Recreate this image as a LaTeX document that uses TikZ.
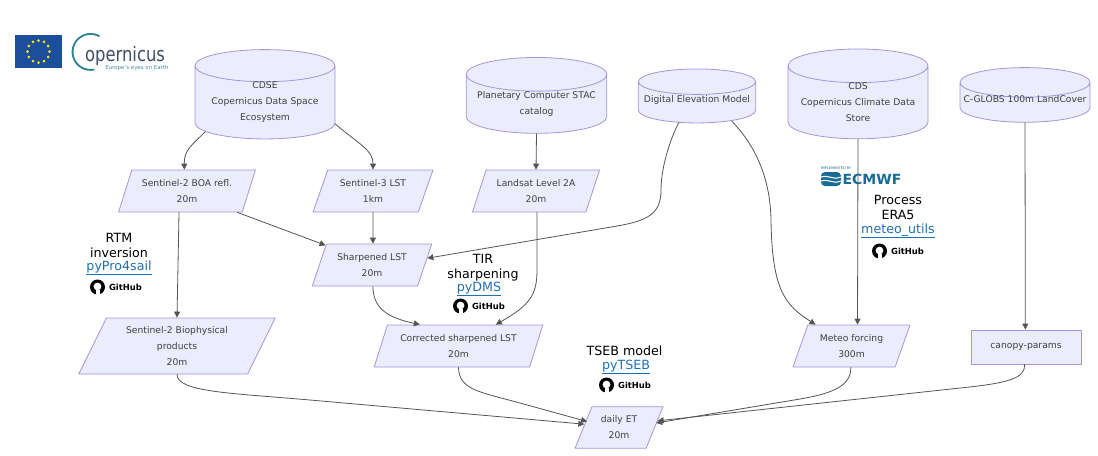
\documentclass[tikz,border=0pt]{standalone}
\usepackage{fontspec}
\setmainfont{DejaVu Sans}
\usetikzlibrary{shapes.geometric,arrows.meta}
\definecolor{nodefill}{HTML}{ECECFF}
\definecolor{nodeline}{HTML}{A594E0}
\definecolor{edgeline}{HTML}{555555}
\definecolor{linkblue}{HTML}{1F6FB8}
\definecolor{flagblue}{HTML}{1B4E9B}
\definecolor{ecmwfblue}{HTML}{1A6A96}
\definecolor{copgrey}{HTML}{3F4F66}
\newcommand{\linktext}[1]{\underline{\raisebox{0pt}[\height][1.8pt]{#1}}}

\tikzset{
    box/.style={draw=nodeline,line width=0.6pt,fill=nodefill,text=black!75,align=center,inner sep=0pt,
        font=\fontsize{6.9}{12}\selectfont},
    store/.style={box,cylinder,shape border rotate=90,shape aspect=#1},
    slant/.style={box,trapezium,trapezium stretches=true,trapezium left angle=#1,trapezium right angle=180-#1},
    flow/.style={->,line width=0.6pt,color=edgeline},
    note/.style={align=center,inner sep=0pt,font=\fontsize{9.5}{11.3}\selectfont},
    link/.style={inner sep=0pt,text=linkblue,font=\fontsize{9.5}{11}\selectfont},
    ghtext/.style={inner sep=0pt,font=\fontsize{6.3}{9}\bfseries\selectfont},
}

\begin{document}
\begin{tikzpicture}[line cap=round,line join=round,>={Triangle[length=4.5pt,width=4.5pt]},x=0.75pt,y=-0.75pt]
    \useasboundingbox (0,0) rectangle (1098,455);

    % logos
    \fill[flagblue] (15,35) rectangle (62,68);
    \foreach \a in {0,30,...,330} {
        \fill[yellow!90!orange] ({38.5+11*cos(\a)},{51.5+11*sin(\a)}) circle (1.5);
    }
    \draw[copgrey!70!cyan,line width=1.4pt] (99,36) arc (-62:-280:18);
    \node[inner sep=0pt,text=copgrey,font=\fontsize{15}{15}\selectfont] (coptext) at (125,56) {\scalebox{0.82}[1]{opernicus}};
    \node[inner sep=0pt,text=ecmwfblue!80,font=\fontsize{4.1}{5}\selectfont] (copline) at (137,68) {Europe's eyes on Earth};

    \node[inner sep=0pt,text=ecmwfblue,font=\fontsize{2.6}{3}\selectfont] (ecimpl) at (836,168) {IMPLEMENTED BY};
    \fill[ecmwfblue,rounded corners=3pt] (821,172) rectangle (841,186);
    \draw[white,line width=0.8pt] (821,177) .. controls (827,174) and (835,181) .. (841,177);
    \draw[white,line width=0.8pt] (821,181) .. controls (827,178) and (835,185) .. (841,181);
    \node[inner sep=0pt,text=ecmwfblue,font=\fontsize{10.5}{12}\bfseries\selectfont] (ectext) at (872,179) {ECMWF};

    % sources
    \node[store=0.3,minimum width=105pt,minimum height=65pt] (cdse) at (265,102.5) {CDSE\\Copernicus Data Space\\Ecosystem};
    \node[store=0.284,minimum width=105.5pt,minimum height=50.5pt] (stac) at (536.5,104) {Planetary Computer STAC\\catalog};
    \node[store=0.24,minimum width=88pt,minimum height=40.5pt] (dem) at (697,102.5) {\smash{Digital Elevation Model}};
    \node[store=0.294,minimum width=105pt,minimum height=65pt] (cds) at (858,102.5) {CDS\\Copernicus Climate Data\\Store};
    \node[store=0.24,minimum width=97.5pt,minimum height=41pt] (cglobs) at (1025,102.5) {\smash{C-GLOBS 100m LandCover}};

    % products
    \node[slant=65,minimum width=103pt,minimum height=31.5pt] (s2boa) at (187,191) {Sentinel-2 BOA refl.\\20m};
    \node[slant=65,minimum width=90pt,minimum height=31.5pt] (s3lst) at (373,191) {Sentinel-3 LST\\1km};
    \node[slant=65,minimum width=96pt,minimum height=31.5pt] (landsat) at (536,191) {Landsat Level 2A\\20m};
    \node[slant=65,minimum width=90pt,minimum height=31.5pt] (sharp) at (372,265) {Sharpened LST\\20m};
    \node[slant=63,minimum width=147.5pt,minimum height=42pt] (s2bio) at (177,346) {Sentinel-2 Biophysical\\products\\20m};
    \node[slant=65,minimum width=126.5pt,minimum height=31.5pt] (corr) at (458.5,346) {Corrected sharpened LST\\20m};
    \node[slant=65,minimum width=88pt,minimum height=31.5pt] (meteo) at (851.5,346) {Meteo forcing\\300m};
    \node[box,minimum width=82.5pt,minimum height=25.5pt] (canopy) at (1026,347) {canopy-params};
    \node[slant=64,minimum width=66pt,minimum height=31pt] (et) at (619,427.5) {daily ET\\20m};

    % links
    \draw[flow] (cdse.206) .. controls (192,145) and (184,150) .. ([xshift=-2pt]s2boa.north);
    \draw[flow] (cdse.-17) .. controls (360,145) and (373,150) .. (s3lst.north);
    \draw[flow] (stac.south) -- (landsat.north);
    \draw[flow] (dem.-132) .. controls (672,135) and (661,165) .. (661,190) .. controls (661,212) and (650,220) .. (620,225.5) -- (sharp.7);
    \draw[flow] (dem.-28) .. controls (745,135) and (770,165) .. (771,220) .. controls (772,290) and (785,305) .. ([xshift=-27pt]meteo.north);
    \draw[flow] (cds.south) -- ([xshift=4.5pt]meteo.north);
    \draw[flow] (cglobs.south) -- ([xshift=-0.5pt]canopy.north);
    \draw[flow] (s2boa.-23) -- (sharp.157);
    \draw[flow] (s3lst.south) -- ([xshift=0.7pt]sharp.north);
    \draw[flow] ([xshift=-6pt]s2boa.south) -- (s2bio.north);
    \draw[flow] ([xshift=0.7pt]landsat.south) -- (537,270) .. controls (537,295) and (530,305) .. ([xshift=28pt]corr.north);
    \draw[flow] ([xshift=0.7pt]sharp.south) .. controls (373,310) and (390,318) .. ([xshift=-29pt]corr.north);
    \draw[flow] (s2bio.south) .. controls (177,392) and (230,393) .. (310,400) -- ([yshift=2.5pt,xshift=1pt]et.west);
    \draw[flow] (corr.south) .. controls (459,390) and (480,392) .. (520,403) -- ([yshift=4.5pt,xshift=3pt]et.west);
    \draw[flow] ([xshift=-0.5pt]meteo.south) .. controls (851,385) and (835,393) .. (800,399) -- ([yshift=3.4pt,xshift=1pt]et.east);
    \draw[flow] ([xshift=-1pt]canopy.south) .. controls (1025,378) and (1010,383) .. (960,388) -- ([yshift=5pt,xshift=2pt]et.east);

    % tools
    \node[note] (rtm) at (119,245) {RTM\\inversion};
    \node[link] (pypro) at (119,268) {\linktext{pyPro4sail}};
    \node[note] (tir) at (483,268) {TIR\\sharpening};
    \node[link] (pydms) at (479,289) {\linktext{pyDMS}};
    \node[note] (tseb) at (624.5,351) {TSEB model};
    \node[link] (pytseb) at (626,367) {\linktext{pyTSEB}};
    \node[note] (era) at (898,207.5) {Process\\ERA5};
    \node[link] (utils) at (898,231) {\linktext{meteo\_utils}};

    \foreach \gx/\gy/\gname in {116/287/ghrtm,479/306/ghdms,625/385/ghtseb,898/251/ghutils} {
        \fill[black] ({\gx-18.5},\gy) circle (7.5);
        \fill[white] ({\gx-18.5},{\gy-0.5}) circle (3.9);
        \fill[white] ({\gx-20.5},{\gy+3}) rectangle ({\gx-16.5},{\gy+8});
        \node[ghtext] (\gname) at ({\gx+9.5},\gy) {GitHub};
    }
\end{tikzpicture}
\end{document}
